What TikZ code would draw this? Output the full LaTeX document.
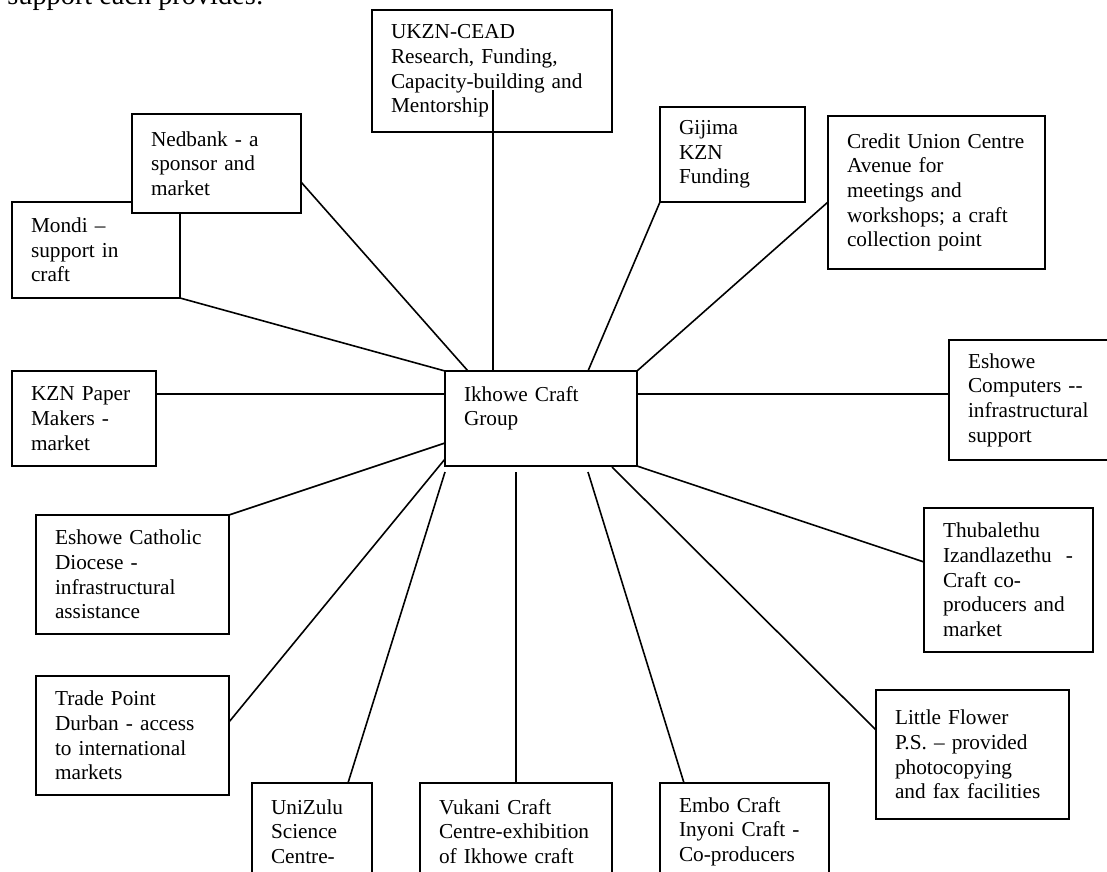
\documentclass[tikz,border=0pt]{standalone}
\usepackage{fontspec}
\setmainfont{Liberation Serif}
\usepackage{tikz}
\usetikzlibrary{calc}

\begin{document}
\begin{tikzpicture}[x=0.47pt, y=-0.47pt,
	every node/.style={font=\fontsize{10}{11.6}\selectfont},
	orgbox/.style 2 args={draw, fill=white, line width=0.85pt, anchor=north west, outer sep=0pt,
		minimum width=#1*0.47pt, minimum height=#2*0.47pt, text width=(#1-38)*0.47pt,
		inner xsep=19*0.47pt, inner ysep=0pt, align=left},
	link/.style={line width=0.75pt}]
	\useasboundingbox (0,0) rectangle (1107,872);
	\clip (0,0) rectangle (1107,872);
	\node[font=\fontsize{13.3}{16}\selectfont, anchor=base west, inner sep=0pt] (intro) at (7,5) {support each provides:};
	% hub
	\node[orgbox={192}{95}] (ikhowe) at (445,371) {Ikhowe Craft\\Group\\\mbox{}};
	% left side
	\node[orgbox={168}{96}] (mondi) at (12,202) {Mondi –\\support in\\craft};
	\node[orgbox={169}{99}] (nedbank) at (132,114) {Nedbank - a\\sponsor and\\market};
	\node[orgbox={144}{95}] (kzn) at (12,371) {KZN Paper\\Makers -\\market};
	\node[orgbox={193}{119}] (catholic) at (36,515) {Eshowe Catholic\\Diocese -\\infrastructural\\assistance};
	\node[orgbox={193}{119}] (trade) at (36,676) {Trade Point\\Durban - access\\to international\\markets};
	% top
	\node[orgbox={240}{122}] (ukzn) at (372,10) {UKZN-CEAD\\Research, Funding,\\Capacity-building and\\Mentorship};
	\node[orgbox={145}{95}] (gijima) at (660,107) {Gijima\\KZN\\Funding};
	\node[orgbox={217}{153}] (credit) at (828,116) {Credit Union Centre\\Avenue for\\meetings and\\workshops; a craft\\collection point};
	% right side
	\node[orgbox={170}{120}] (comp) at (949,340) {Eshowe\\Computers \mbox{-}\mbox{-}\\infrastructural\\support};
	\node[orgbox={169}{144}] (thuba) at (924,508) {Thubalethu\\Izandlazethu~~-\\Craft co-\\producers and\\market};
	\node[orgbox={193}{129}] (flower) at (876,690) {Little Flower\\P.S. – provided\\photocopying\\and fax facilities};
	% bottom
	\node[orgbox={120}{97}] (unizulu) at (252,783) {UniZulu\\Science\\Centre-};
	\node[orgbox={192}{97}] (vukani) at (420,783) {Vukani Craft\\Centre-exhibition\\of Ikhowe craft};
	\node[orgbox={169}{97}] (embo) at (660,783) {Embo Craft\\Inyoni Craft -\\Co-producers};
	% links to the hub
	\draw[link] ($(ukzn.south west)+(121,-42)$) -- ($(ikhowe.north west)+(48,0)$);
	\draw[link] ($(nedbank.north east)+(0,68)$) -- ($(ikhowe.north west)+(23,0)$);
	\draw[link] (mondi.south east) -- (ikhowe.north west);
	\draw[link] ($(kzn.north east)+(0,23)$) -- ($(ikhowe.north west)+(0,23)$);
	\draw[link] (catholic.north east) -- ($(ikhowe.south west)+(0,-23)$);
	\draw[link] ($(trade.north east)+(0,46)$) -- ($(ikhowe.south west)+(0,-7)$);
	\draw[link] ($(unizulu.north west)+(96,0)$) -- ($(ikhowe.south west)+(0,6)$);
	\draw[link] ($(vukani.north west)+(96,0)$) -- ($(ikhowe.south west)+(71,6)$);
	\draw[link] ($(embo.north west)+(24,0)$) -- ($(ikhowe.south west)+(143,6)$);
	\draw[link] ($(flower.north west)+(0,40)$) -- ($(ikhowe.south east)+(-25,1)$);
	\draw[link] ($(thuba.north west)+(0,54)$) -- (ikhowe.south east);
	\draw[link] ($(comp.north west)+(0,54)$) -- ($(ikhowe.north east)+(0,23)$);
	\draw[link] ($(credit.north west)+(0,86)$) -- (ikhowe.north east);
	\draw[link] (gijima.south west) -- ($(ikhowe.north west)+(143,0)$);
\end{tikzpicture}
\end{document}
